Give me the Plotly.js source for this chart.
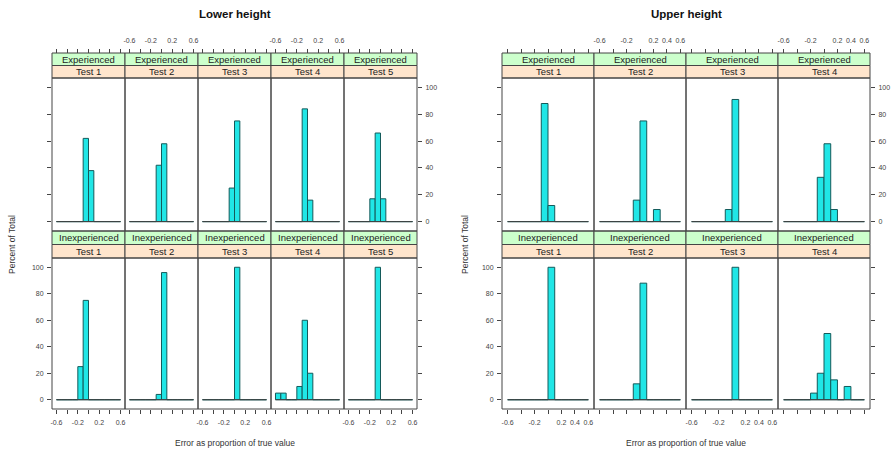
<!DOCTYPE html>
<html><head><meta charset="utf-8">
<script src="https://cdn.plot.ly/plotly-3.0.1.min.js"></script>
<style>html,body{margin:0;padding:0;background:#fff}#chart{width:894px;height:452px}</style>
</head><body><div id="chart"></div>
<script>
// ---- data ----
const breaks = [-0.6, -0.5, -0.4, -0.3, -0.2, -0.1, 0, 0.1, 0.2, 0.3, 0.4, 0.5, 0.6];
const groups = ["Experienced", "Inexperienced"];
const lowerTests = ["Test 1", "Test 2", "Test 3", "Test 4", "Test 5"];
const upperTests = ["Test 1", "Test 2", "Test 3", "Test 4"];
const lowerExperienced = [
  [0, 0, 0, 0, 0, 62, 38, 0, 0, 0, 0, 0],
  [0, 0, 0, 0, 0, 42, 58, 0, 0, 0, 0, 0],
  [0, 0, 0, 0, 0, 25, 75, 0, 0, 0, 0, 0],
  [0, 0, 0, 0, 0, 84, 16, 0, 0, 0, 0, 0],
  [0, 0, 0, 0, 17, 66, 17, 0, 0, 0, 0, 0]
];
const lowerInexperienced = [
  [0, 0, 0, 0, 25, 75, 0, 0, 0, 0, 0, 0],
  [0, 0, 0, 0, 0, 4, 96, 0, 0, 0, 0, 0],
  [0, 0, 0, 0, 0, 0, 100, 0, 0, 0, 0, 0],
  [5, 5, 0, 0, 10, 60, 20, 0, 0, 0, 0, 0],
  [0, 0, 0, 0, 0, 100, 0, 0, 0, 0, 0, 0]
];
const upperExperienced = [
  [0, 0, 0, 0, 0, 88, 12, 0, 0, 0, 0, 0],
  [0, 0, 0, 0, 0, 16, 75, 0, 9, 0, 0, 0],
  [0, 0, 0, 0, 0, 9, 91, 0, 0, 0, 0, 0],
  [0, 0, 0, 0, 0, 33, 58, 9, 0, 0, 0, 0]
];
const upperInexperienced = [
  [0, 0, 0, 0, 0, 0, 100, 0, 0, 0, 0, 0],
  [0, 0, 0, 0, 0, 12, 88, 0, 0, 0, 0, 0],
  [0, 0, 0, 0, 0, 0, 100, 0, 0, 0, 0, 0],
  [0, 0, 0, 0, 5, 20, 50, 15, 0, 10, 0, 0]
];
const xTickVals = [-0.6, -0.4, -0.2, 0, 0.2, 0.4, 0.6];
const lowerXTickText = ["-0.6", "", "-0.2", "", "0.2", "", "0.6"];
const upperXTickText = ["-0.6", "", "-0.2", "", "0.2", "0.4", "0.6"];
const yTickVals = [0, 20, 40, 60, 80, 100];
const yTickText = ["0", "20", "40", "60", "80", "100"];
const figureTitles = ["Lower height", "Upper height"];
const xTitle = "Error as proportion of true value";
const yTitle = "Percent of Total";

// ---- layout helpers ----
const W = 894, H = 452;
const fx = v => v / W, fy = v => 1 - v / H;
const FONT = "Liberation Sans, Arial, sans-serif";
const BORDER = "#454545";
const X_RANGE = [-0.684, 0.684];
const Y_RANGE = [-7, 107];

const figs = [
  {title: figureTitles[0], tests: lowerTests, data: [lowerExperienced, lowerInexperienced], xText: lowerXTickText, left: 52, pw: 73, yTitleX: 12},
  {title: figureTitles[1], tests: upperTests, data: [upperExperienced, upperInexperienced], xText: upperXTickText, left: 502, pw: 92, yTitleX: 465}
];
const rows = [
  {s1: 53, s2: 65.5, p0: 78, p1: 231},
  {s1: 231, s2: 244.5, p0: 258, p1: 409}
];
const stripColors = ["#CCFFCC", "#FFE5CC"];

const mids = breaks.slice(0, -1).map((b, i) => (b + breaks[i + 1]) / 2);
const widths = breaks.slice(0, -1).map((b, i) => breaks[i + 1] - b);

const traces = [];
const layout = {
  width: W, height: H,
  margin: {l: 0, r: 0, t: 0, b: 0},
  paper_bgcolor: "#fff", plot_bgcolor: "#fff",
  showlegend: false, hovermode: false,
  font: {family: FONT, color: "#222"},
  shapes: [], annotations: []
};

let idx = 0;
figs.forEach(fig => {
  const ncol = fig.tests.length;
  const totalW = fig.pw * ncol;
  const cx = fig.left + totalW / 2;
  layout.annotations.push({text: "<b>" + fig.title + "</b>", xref: "paper", yref: "paper", x: fx(cx), y: fy(14),
    showarrow: false, xanchor: "center", yanchor: "middle", font: {size: 11.5, family: FONT, color: "#111"}});
  layout.annotations.push({text: xTitle, xref: "paper", yref: "paper", x: fx(cx), y: fy(443),
    showarrow: false, xanchor: "center", yanchor: "middle", font: {size: 8.5, family: FONT, color: "#333"}});
  layout.annotations.push({text: yTitle, xref: "paper", yref: "paper", x: fx(fig.yTitleX), y: fy(245), textangle: -90,
    showarrow: false, xanchor: "center", yanchor: "middle", font: {size: 8.5, family: FONT, color: "#333"}});

  rows.forEach((r, ri) => {
    for (let c = 0; c < ncol; c++) {
      idx++;
      const n = idx === 1 ? "" : String(idx);
      const x0 = fig.left + c * fig.pw, x1 = x0 + fig.pw;
      const vals = fig.data[ri][c];

      // zero-height bins drawn as a baseline across the breaks
      traces.push({type: "scatter", mode: "lines", x: [breaks[0], breaks[breaks.length - 1]], y: [0, 0],
        line: {color: "#404040", width: 1}, xaxis: "x" + n, yaxis: "y" + n});
      traces.push({type: "bar", x: mids, y: vals, width: widths,
        marker: {color: "#20E6E6", line: {color: "#145a5a", width: 1}},
        xaxis: "x" + n, yaxis: "y" + n});

      const xLabelled = ri === 1 ? (c % 2 === 0) : (c % 2 === 1);
      const xa = {
        domain: [fx(x0), fx(x1)], range: X_RANGE, tickmode: "array", tickvals: xTickVals, ticktext: fig.xText,
        ticks: "outside", ticklen: 4, tickwidth: 1, tickcolor: BORDER, showticklabels: xLabelled,
        ticklabelstandoff: 3,
        tickfont: {size: 7, family: FONT, color: "#444"}, showgrid: false, zeroline: false, showline: false, fixedrange: true
      };
      if (ri === 0) { xa.side = "top"; xa.anchor = "free"; xa.position = fy(r.s1); }
      else { xa.side = "bottom"; xa.anchor = "y" + n; }
      layout["xaxis" + n] = xa;

      const isFirst = c === 0, isLast = c === ncol - 1;
      layout["yaxis" + n] = {
        domain: [fy(r.p1), fy(r.p0)], range: Y_RANGE, anchor: "x" + n,
        tickmode: "array", tickvals: yTickVals, ticktext: yTickText,
        side: isLast ? "right" : "left",
        ticks: (isFirst || isLast) ? "outside" : "", ticklen: 4, tickwidth: 1, tickcolor: BORDER,
        showticklabels: (ri === 1 && isFirst) || (ri === 0 && isLast),
        ticklabelstandoff: 2,
        tickfont: {size: 7, family: FONT, color: "#444"},
        showgrid: false, zeroline: false, showline: false, fixedrange: true
      };

      // strips
      layout.shapes.push({type: "rect", xref: "paper", yref: "paper", x0: fx(x0), x1: fx(x1), y0: fy(r.s2), y1: fy(r.s1),
        fillcolor: stripColors[0], line: {color: BORDER, width: 1}, layer: "below"});
      layout.shapes.push({type: "rect", xref: "paper", yref: "paper", x0: fx(x0), x1: fx(x1), y0: fy(r.p0), y1: fy(r.s2),
        fillcolor: stripColors[1], line: {color: BORDER, width: 1}, layer: "below"});
      // panel box
      layout.shapes.push({type: "rect", xref: "paper", yref: "paper", x0: fx(x0), x1: fx(x1), y0: fy(r.p1), y1: fy(r.p0),
        line: {color: BORDER, width: 1}, layer: "above"});
      layout.annotations.push({text: groups[ri], xref: "paper", yref: "paper", x: fx((x0 + x1) / 2), y: fy((r.s1 + r.s2) / 2),
        showarrow: false, xanchor: "center", yanchor: "middle", font: {size: 9.5, family: FONT, color: "#222"}});
      layout.annotations.push({text: fig.tests[c], xref: "paper", yref: "paper", x: fx((x0 + x1) / 2), y: fy((r.s2 + r.p0) / 2),
        showarrow: false, xanchor: "center", yanchor: "middle", font: {size: 9.5, family: FONT, color: "#222"}});
    }
  });
});

Plotly.newPlot("chart", traces, layout, {staticPlot: true, displayModeBar: false});
</script>
</body></html>
